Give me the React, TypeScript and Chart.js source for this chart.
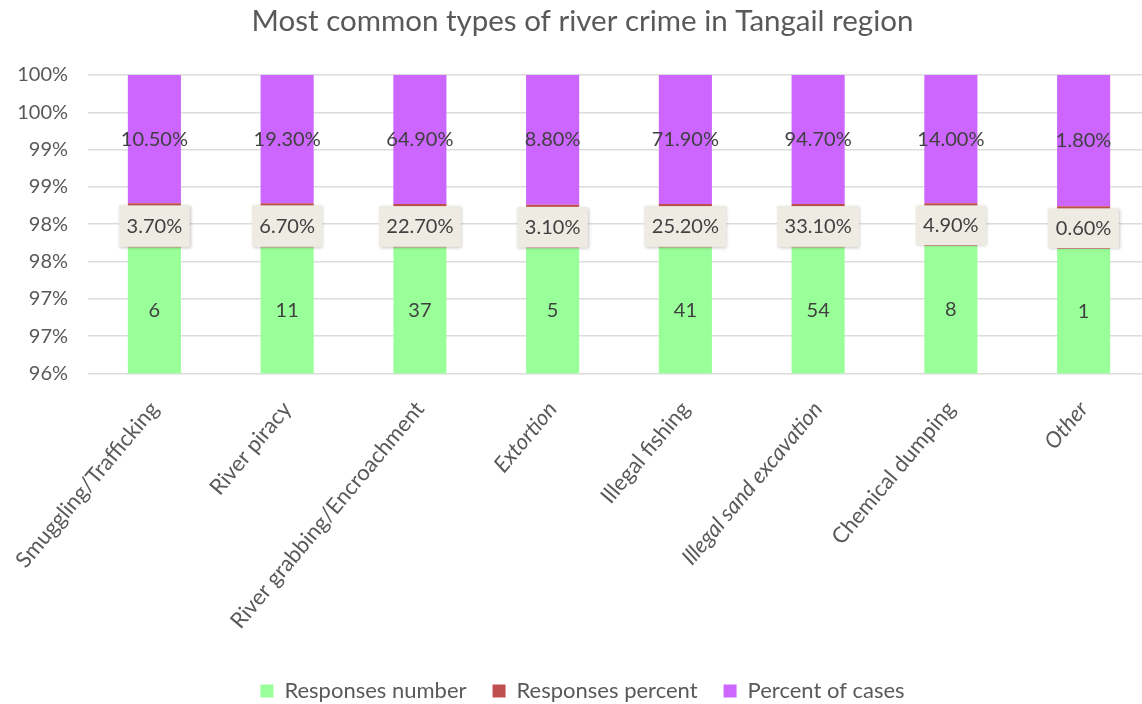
import React, { useEffect, useRef } from 'react';
import { Chart, registerables } from 'chart.js';

Chart.register(...registerables);

const categories = [
  'Smuggling/Trafficking',
  'River piracy',
  'River grabbing/Encroachment',
  'Extortion',
  'Illegal fishing',
  'Illegal sand excavation',
  'Chemical dumping',
  'Other',
];
const italicLabel = [false, false, false, true, false, true, false, true];

// values shown in the data labels
const responsesNumber = [6, 11, 37, 5, 41, 54, 8, 1];
const responsesPercent = [3.7, 6.7, 22.7, 3.1, 25.2, 33.1, 4.9, 0.6];
const percentOfCases = [10.5, 19.3, 64.9, 8.8, 71.9, 94.7, 14.0, 1.8];

// plotted shares (percent of the 100% stack)
const greenShare = [97.69, 97.69, 97.69, 97.68, 97.69, 97.69, 97.71, 97.67];
const redShare = [0.59, 0.59, 0.58, 0.58, 0.58, 0.58, 0.57, 0.57];
const purpleShare = [1.72, 1.72, 1.73, 1.74, 1.73, 1.73, 1.72, 1.76];

const yMin = 96;
const yMax = 100;
const yStep = 0.5;

const seriesNames = ['Responses number', 'Responses percent', 'Percent of cases'];
const seriesColors = ['#99FF99', '#C0504D', '#CC66FF'];

const FONT = 'Lato, "Open Sans", sans-serif';
const TEXT = '#595959';

const labelPlugin = {
  id: 'barLabels',
  afterDatasetsDraw(chart: any) {
    const { ctx, chartArea } = chart;
    ctx.save();
    ctx.font = `20px ${FONT}`;
    ctx.textAlign = 'center';
    ctx.textBaseline = 'middle';
    chart.data.datasets.forEach((ds: any, di: number) => {
      const meta = chart.getDatasetMeta(di);
      meta.data.forEach((el: any, i: number) => {
        const top = Math.max(Math.min(el.y, el.base), chartArea.top);
        const bottom = Math.min(Math.max(el.y, el.base), chartArea.bottom);
        if (bottom <= top) return;
        const cy = (top + bottom) / 2;
        const text = ds.labelTexts[i];
        if (di === 1) {
          const w = ctx.measureText(text).width + 15;
          const h = bottom - top - 2.5;
          ctx.save();
          ctx.shadowColor = 'rgba(0,0,0,0.22)';
          ctx.shadowBlur = 3;
          ctx.shadowOffsetX = 1;
          ctx.shadowOffsetY = 1;
          ctx.fillStyle = '#EEEBE3';
          ctx.fillRect(el.x - w / 2, top + 2, w, h);
          ctx.restore();
        }
        ctx.fillStyle = '#404040';
        ctx.fillText(text, el.x, di === 1 ? cy + 1 : cy);
      });
    });
    ctx.restore();
  },
};

export default function App() {
  const ref = useRef<HTMLCanvasElement>(null);

  useEffect(() => {
    document.body.style.margin = '0';
    const canvas = ref.current;
    if (!canvas) return;
    const labelSets = [
      responsesNumber.map((v) => String(v)),
      responsesPercent.map((v) => v.toFixed(2) + '%'),
      percentOfCases.map((v) => v.toFixed(2) + '%'),
    ];
    const shares = [greenShare, redShare, purpleShare];
    const chart = new Chart(canvas, {
      type: 'bar',
      data: {
        labels: categories,
        datasets: shares.map((s, k) => ({
          label: seriesNames[k],
          data: s,
          backgroundColor: seriesColors[k],
          borderWidth: 0,
          barPercentage: 0.4,
          categoryPercentage: 1,
          labelTexts: labelSets[k],
        })) as any,
      },
      options: {
        animation: false,
        responsive: false,
        maintainAspectRatio: false,
        layout: { padding: { left: 15, right: 0, top: 0, bottom: 0 } },
        scales: {
          x: {
            stacked: true,
            grid: { display: false },
            border: { display: false },
            ticks: {
              color: TEXT,
              minRotation: 50,
              maxRotation: 50,
              padding: 15,
              autoSkip: false,
              font: (c: any) => ({
                family: FONT,
                size: 22,
                style: italicLabel[c.index] ? 'italic' : 'normal',
              }),
            },
            afterFit: (s: any) => {
              s.height = 280.5;
            },
          },
          y: {
            stacked: true,
            min: yMin,
            max: yMax,
            border: { display: false },
            grid: { color: '#DCDCDC', lineWidth: 1.6, drawTicks: false },
            ticks: {
              stepSize: yStep,
              color: TEXT,
              padding: 20,
              font: { family: FONT, size: 20 },
              callback: (v: any) => Math.round(Number(v)) + '%',
            },
            afterFit: (s: any) => {
              s.width = 72;
            },
          },
        },
        plugins: {
          title: {
            display: true,
            text: 'Most common types of river crime in Tangail region',
            color: TEXT,
            font: { family: FONT, size: 29.5, weight: 'normal' },
            padding: { top: 4, bottom: 35.6 },
          },
          legend: {
            position: 'bottom',
            labels: {
              color: TEXT,
              font: { family: FONT, size: 22 },
              boxWidth: 13,
              boxHeight: 13,
              padding: 26,
            },
          },
          tooltip: { enabled: false },
        },
      },
      plugins: [labelPlugin],
    });
    return () => chart.destroy();
  }, []);

  return (
    <div style={{ width: 1142, height: 704, overflow: 'hidden', position: 'relative', background: '#fff' }}>
      <canvas ref={ref} width={1150} height={712} style={{ display: 'block', width: 1150, height: 712 }} />
    </div>
  );
}
